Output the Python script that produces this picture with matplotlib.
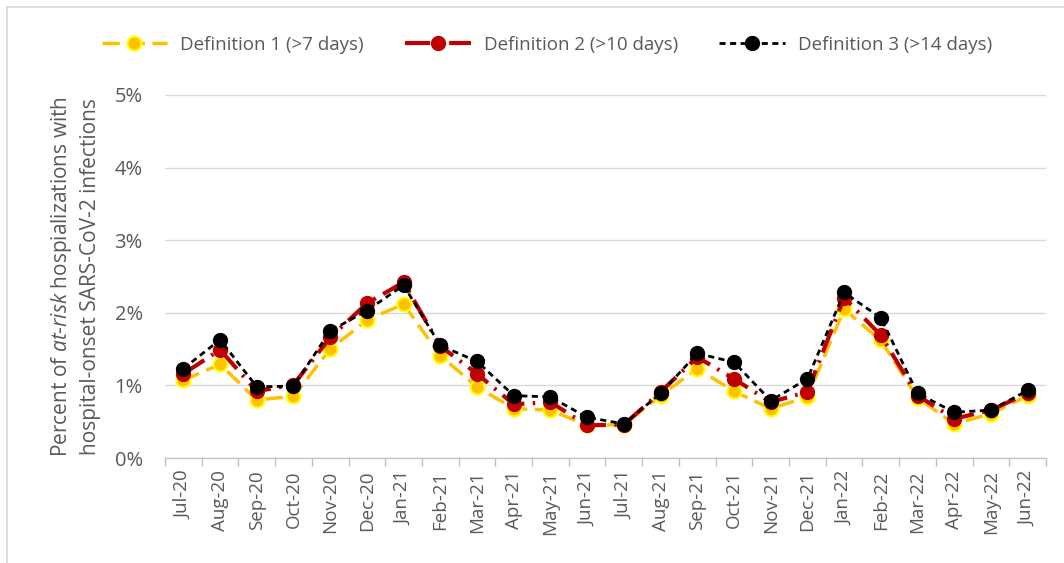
import matplotlib
matplotlib.use("Agg")
import matplotlib.pyplot as plt
from matplotlib.lines import Line2D
import numpy as np

months = ["Jul-20", "Aug-20", "Sep-20", "Oct-20", "Nov-20", "Dec-20", "Jan-21", "Feb-21",
          "Mar-21", "Apr-21", "May-21", "Jun-21", "Jul-21", "Aug-21", "Sep-21", "Oct-21",
          "Nov-21", "Dec-21", "Jan-22", "Feb-22", "Mar-22", "Apr-22", "May-22", "Jun-22"]
def1 = [1.07, 1.29, 0.80, 0.85, 1.50, 1.90, 2.12, 1.41, 0.98, 0.68, 0.66, 0.45,
        0.46, 0.86, 1.23, 0.92, 0.68, 0.84, 2.05, 1.62, 0.83, 0.47, 0.61, 0.86]
def2 = [1.16, 1.49, 0.92, 1.01, 1.66, 2.13, 2.42, 1.54, 1.16, 0.74, 0.77, 0.45,
        0.46, 0.91, 1.39, 1.09, 0.77, 0.91, 2.21, 1.69, 0.86, 0.54, 0.66, 0.89]
def3 = [1.23, 1.63, 0.98, 0.99, 1.75, 2.03, 2.38, 1.55, 1.33, 0.86, 0.84, 0.56,
        0.47, 0.89, 1.44, 1.32, 0.79, 1.09, 2.28, 1.93, 0.89, 0.63, 0.66, 0.93]
labels = ["Definition 1 (>7 days)", "Definition 2 (>10 days)", "Definition 3 (>14 days)"]
yticks = [0, 1, 2, 3, 4, 5]

plt.rcParams['font.family'] = ['Open Sans', 'DejaVu Sans']
plt.rcParams['mathtext.fontset'] = 'custom'
plt.rcParams['mathtext.it'] = 'Open Sans:italic'
plt.rcParams['mathtext.rm'] = 'Open Sans'

gray = "#595959"
fig = plt.figure(figsize=(10.64, 5.63), dpi=100)
ax = fig.add_axes([165/1064, 1-458/563, (1046-165)/1064, (458-95)/563])

x = np.arange(len(months))
ax.plot(x, def1, color="#FFC000", lw=2.5, ls=(0, (5, 2.2)), marker="o", ms=10,
        mfc="#FFC000", mec="#FFFF00", mew=1.5, zorder=3, label=labels[0])
ax.plot(x, def2, color="#C00000", lw=3, ls=(0, (6, 2, 0.6, 2)), marker="o", ms=10,
        mfc="#C00000", mec="#C00000", zorder=4, label=labels[1])
ax.plot(x, def3, color="black", lw=2, ls=(0, (2.2, 1.6)), marker="o", ms=10,
        mfc="black", mec="black", zorder=5, label=labels[2])

ax.set_xlim(-0.5, len(months) - 0.5)
ax.set_ylim(0, 5)
ax.set_yticks(yticks)
ax.set_yticklabels([f"{v}%" for v in yticks])
ax.set_xticks(x)
ax.set_xticklabels(months, rotation=90)
ax.set_xticks(np.arange(-0.5, len(months)), minor=True)
ax.tick_params(axis='x', which='major', length=0, pad=9, labelsize=13.5, labelcolor=gray)
ax.tick_params(axis='x', which='minor', length=6, color="#BFBFBF", width=1)
ax.tick_params(axis='y', length=0, pad=16, labelsize=14.5, labelcolor=gray)
ax.grid(axis='y', color="#D9D9D9", lw=1)
ax.set_axisbelow(True)
for s in ["top", "right", "left"]:
    ax.spines[s].set_visible(False)
ax.spines["bottom"].set_color("#BFBFBF")
ax.spines["bottom"].set_zorder(2)

fig.text(75/1064, 1-277/563, "Percent of $\\mathit{at}$-$\\mathit{risk}$ hospializations with\nhospital-onset SARS-CoV-2 infections",
         rotation=90, ha="center", va="center", fontsize=15, color=gray, linespacing=1.35)

ax.legend(loc="center", bbox_to_anchor=(547/1064, 1 - 45/563), bbox_transform=fig.transFigure,
          ncol=3, frameon=False, fontsize=13.5, labelcolor=gray, handlelength=3.5,
          columnspacing=2.2, handletextpad=0.7)

fig.add_artist(Line2D([7/1064, 1], [1-7/563, 1-7/563], color="#D9D9D9", lw=1.2))
fig.add_artist(Line2D([7/1064, 7/1064], [0, 1-7/563], color="#D9D9D9", lw=1.2))

fig.savefig("out.png", dpi=100)
